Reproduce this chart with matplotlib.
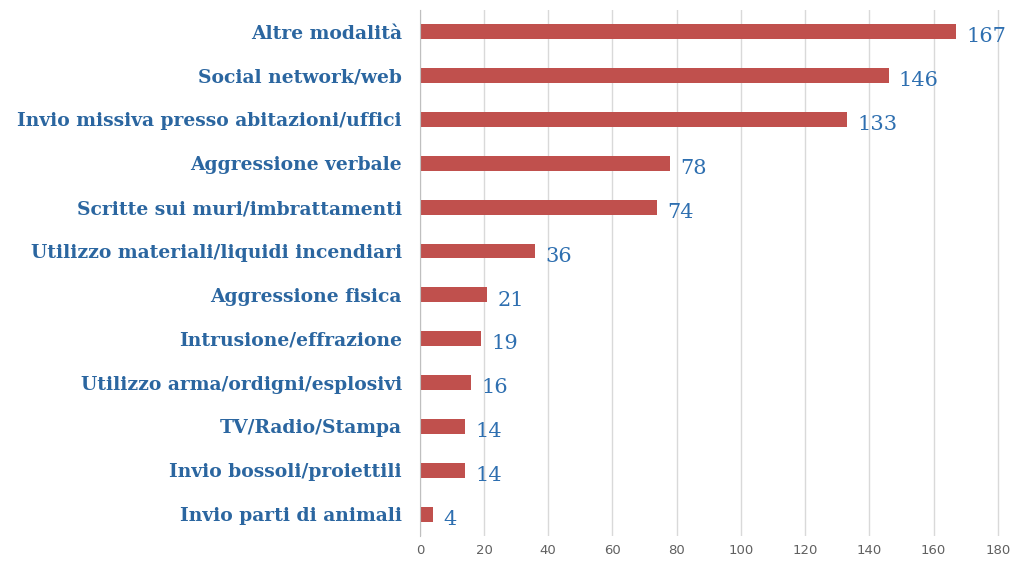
import numpy as np
from matplotlib import pyplot as plt

categories = [
    "Altre modalità",
    "Social network/web",
    "Invio missiva presso abitazioni/uffici",
    "Aggressione verbale",
    "Scritte sui muri/imbrattamenti",
    "Utilizzo materiali/liquidi incendiari",
    "Aggressione fisica",
    "Intrusione/effrazione",
    "Utilizzo arma/ordigni/esplosivi",
    "TV/Radio/Stampa",
    "Invio bossoli/proiettili",
    "Invio parti di animali",
]
values = [167, 146, 133, 78, 74, 36, 21, 19, 16, 14, 14, 4]
xticks = list(range(0, 181, 20))


def main():
	fig = plt.figure(figsize=(10.19, 5.74), dpi=100)
	ax = fig.add_axes([0.412, 0.066, 0.569, 0.917])

	y = np.arange(len(categories))[::-1]
	ax.barh(y, values, height=0.34, color="#c0504d", zorder=3)

	for yi, v in zip(y, values):
		ax.text(v + 3.2, yi - 0.12, str(v), va="center", ha="left",
				fontsize=15, color="#2e6fb0", family="DejaVu Serif")

	ax.set_xlim(0, 180.6)
	ax.set_ylim(-0.5, len(categories) - 0.5)
	ax.set_xticks(xticks)
	ax.set_yticks(y)
	ax.set_yticklabels(categories, fontsize=13.5, color="#2b66a0",
					   family="DejaVu Serif", fontweight="bold")
	ax.tick_params(axis="y", length=0, pad=13)
	ax.tick_params(axis="x", length=0, labelsize=9.5, labelcolor="#606060", pad=6)

	ax.grid(axis="x", color="#d9d9d9", linewidth=1, zorder=0)
	for s in ["top", "right", "bottom"]:
		ax.spines[s].set_visible(False)
	ax.spines["left"].set_color("#bfbfbf")
	ax.spines["left"].set_zorder(4)

	fig.savefig("out.png", dpi=100)


if __name__ == "__main__":
	main()
